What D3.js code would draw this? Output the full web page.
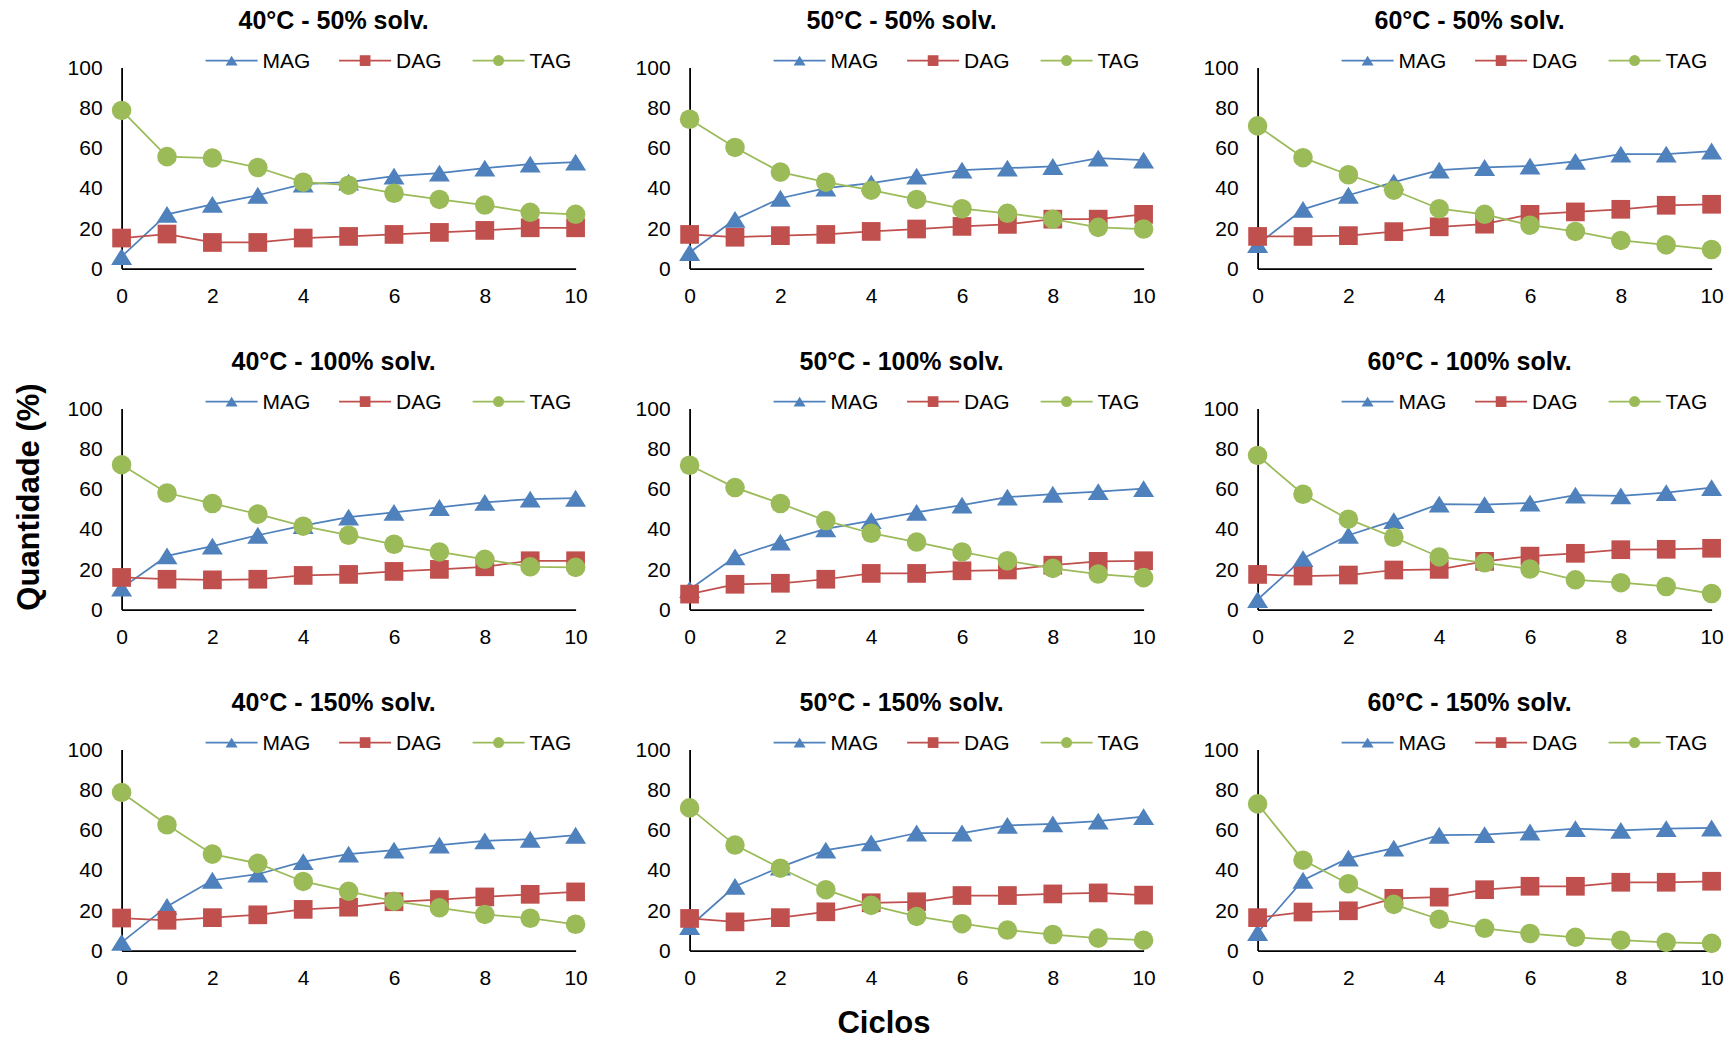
<!DOCTYPE html>
<html>
<head>
<meta charset="utf-8">
<script src="https://cdn.jsdelivr.net/npm/d3@7"></script>
<style>
    body { margin: 0; background: white; }
    svg { display: block; font-family: Arial, 'Liberation Sans', sans-serif; }
</style>
</head>
<body>
<div class="top-panel"></div>
<script>
// Panel titles, in reading order (rows = solvent %, columns = temperature).
var titles = [
    '40°C - 50% solv.', '50°C - 50% solv.', '60°C - 50% solv.',
    '40°C - 100% solv.', '50°C - 100% solv.', '60°C - 100% solv.',
    '40°C - 150% solv.', '50°C - 150% solv.', '60°C - 150% solv.'
];
var cycles = [0, 1, 2, 3, 4, 5, 6, 7, 8, 9, 10];
var xTicks = [0, 2, 4, 6, 8, 10];
var yTicks = [0, 20, 40, 60, 80, 100];
var seriesNames = ['MAG', 'DAG', 'TAG'];

// MAG values for each panel.
var magValues = [
    [6, 27, 32, 36.5, 42, 43, 46, 47.5, 50, 52, 53],
    [8, 24.5, 35, 40, 42.5, 46, 49, 50, 50.8, 55, 54],
    [12, 29.5, 36.5, 43, 49, 50.3, 51, 53.3, 57, 57, 58.5],
    [10.7, 26.7, 31.6, 37, 41.8, 46, 48.4, 50.8, 53.3, 55, 55.4],
    [10, 26.2, 33.6, 40.2, 44.3, 48.4, 52, 56, 57.4, 58.7, 60.2],
    [5, 25.4, 37, 44.3, 52.5, 52.2, 53, 57, 56.6, 58.2, 60.7],
    [4.1, 22, 35, 38, 44.3, 48, 50, 52.5, 54.6, 55.4, 57.4],
    [12, 32, 41.5, 50, 53.6, 58.5, 58.5, 62.3, 63, 64.4, 66.7],
    [9, 35, 46, 51, 57.4, 57.7, 59, 60.7, 59.8, 60.7, 61]
];
// DAG values for each panel.
var dagValues = [
    [15.2, 17.2, 13, 13, 15.2, 16, 17, 18, 19, 20.3, 20.3],
    [17, 15.6, 16.4, 17, 18.5, 19.7, 21, 22, 24.6, 24.6, 27],
    [16, 16, 16.4, 18.4, 20.8, 22.1, 27, 28.2, 29.5, 31.5, 32],
    [16, 15.1, 14.8, 15.1, 17, 17.5, 19, 20, 21.3, 24.3, 24.3],
    [7.7, 12.6, 13.1, 15.1, 18, 18, 19.3, 19.7, 22.1, 24, 24.3],
    [17.5, 16.7, 17.2, 19.7, 20, 24, 26.6, 28, 29.8, 30, 30.5],
    [16.2, 15.1, 16.4, 17.8, 20.5, 21.6, 24.3, 25.4, 26.7, 28, 29.2],
    [16, 14.3, 16.4, 19.3, 23.8, 24.3, 27.4, 27.4, 28.2, 28.7, 27.6],
    [16.4, 19.2, 19.8, 26, 26.6, 30.3, 32, 32, 34, 34, 34.5]
];
// TAG values for each panel.
var tagValues = [
    [78.7, 55.7, 55, 50.3, 43, 41.5, 37.5, 34.4, 31.6, 28, 27],
    [74.3, 60.3, 48, 43, 39, 34.4, 29.8, 27.5, 24.6, 20.5, 19.7],
    [71, 55.2, 46.7, 39, 29.8, 27, 21.6, 18.5, 14, 11.8, 9.5],
    [72.1, 58, 52.8, 47.5, 41.5, 37, 32.5, 28.7, 25, 21.3, 21],
    [71.8, 60.7, 52.8, 44.3, 38, 33.6, 28.7, 24.3, 20.5, 17.7, 15.9],
    [76.7, 57.4, 45, 36, 26.2, 23.3, 20.2, 14.8, 13.4, 11.5, 8],
    [78.7, 62.6, 48, 43.4, 34.4, 29.5, 24.6, 21.3, 18, 16.1, 13.1],
    [71, 52.5, 41, 30.3, 22.5, 17, 13.4, 10.2, 8, 6.2, 5.2],
    [73, 45, 33.3, 23, 15.6, 11.1, 8.5, 6.6, 5.2, 4.1, 3.6]
];

// Excel-style triangle: a bit flatter than d3's equilateral one, centred on its box.
// Here "size" is taken as the width of the triangle.
var flatTriangle = {
    draw: function(context, size) {
        var w = size / 2, h = size * 0.4;
        context.moveTo(0, -h);
        context.lineTo(w, h);
        context.lineTo(-w, h);
        context.closePath();
    }
};

// Excel 2007 default series colours and marker shapes.
var colors = { MAG: '#4F81BD', DAG: '#C0504D', TAG: '#9BBB59' };
var symbols = { MAG: flatTriangle, DAG: d3.symbolSquare, TAG: d3.symbolCircle };
var markerSize = { MAG: 21, DAG: 350, TAG: 300 };
var legendMarkerSize = { MAG: 12, DAG: 115, TAG: 95 };

// Grid geometry (axis origin of the top-left panel and spacing between panels).
var plotW = 454, plotH = 201;
var originX = 121.6, originBottom = 268.6;
var colStep = 568, rowStep = 341;

var svg = d3.select('.top-panel').append('svg')
    .attr('width', 1733).attr('height', 1043);

var x = d3.scaleLinear().domain([0, 10]).range([0, plotW]);
var y = d3.scaleLinear().domain([0, 100]).range([plotH, 0]);

/**
 * Draws one small multiple at panel index i.
 */
var drawPanel = function(i) {
    var col = i % 3, row = Math.floor(i / 3);
    var g = svg.append('g')
        .attr('transform', 'translate(' + (originX + col * colStep) + ',' + (originBottom + row * rowStep - plotH) + ')');

    // Panel title.
    g.append('text')
        .attr('x', 212).attr('y', -39)
        .style('text-anchor', 'middle')
        .style('font-weight', 'bold').style('font-size', '25px')
        .text(titles[i]);

    // Axes with no tick marks, just the labels and a black spine.
    var yAxis = g.append('g')
        .call(d3.axisLeft(y).tickValues(yTicks).tickSize(0).tickSizeOuter(0).tickPadding(19));
    var xAxis = g.append('g')
        .attr('transform', 'translate(0,' + plotH + ')')
        .call(d3.axisBottom(x).tickValues(xTicks).tickSize(0).tickSizeOuter(0).tickPadding(19));
    [xAxis, yAxis].forEach(function(a) {
        a.select('.domain').attr('stroke', 'black').attr('stroke-width', 1.8);
        a.selectAll('text').style('font-size', '21px').style('font-family', 'Arial, Liberation Sans, sans-serif').attr('fill', '#000');
    });

    var values = { MAG: magValues[i], DAG: dagValues[i], TAG: tagValues[i] };
    var line = d3.line()
        .x(function(d, j) { return x(cycles[j]); })
        .y(function(d) { return y(d); });

    // Series are drawn in order, so TAG sits on top.
    seriesNames.forEach(function(name) {
        g.append('path')
            .datum(values[name])
            .attr('fill', 'none')
            .attr('stroke', colors[name])
            .attr('stroke-width', 1.75)
            .attr('d', line);
        g.selectAll('.pt-' + name).data(values[name])
            .enter().append('path')
            .attr('class', 'pt-' + name)
            .attr('transform', function(d, j) { return 'translate(' + x(cycles[j]) + ',' + y(d) + ')'; })
            .attr('d', d3.symbol(symbols[name], markerSize[name]))
            .attr('fill', colors[name]);
    });

    // Legend above the plot area.
    var legend = g.append('g').attr('transform', 'translate(84,-7)');
    seriesNames.forEach(function(name, k) {
        var item = legend.append('g').attr('transform', 'translate(' + (k * 133.5) + ',0)');
        item.append('line')
            .attr('x1', 0).attr('x2', 52).attr('y1', 0).attr('y2', 0)
            .attr('stroke', colors[name]).attr('stroke-width', 1.75);
        item.append('path')
            .attr('transform', 'translate(26,0)')
            .attr('d', d3.symbol(symbols[name], legendMarkerSize[name]))
            .attr('fill', colors[name]);
        item.append('text')
            .attr('x', 57).attr('y', 0).attr('dy', '0.35em')
            .style('font-size', '21px')
            .text(name);
    });
};

for (var i = 0; i < titles.length; i++) {
    drawPanel(i);
}

// Shared axis titles.
svg.append('text')
    .attr('transform', 'translate(28,497) rotate(-90)')
    .attr('dy', '0.35em')
    .style('text-anchor', 'middle')
    .style('font-weight', 'bold').style('font-size', '31px')
    .text('Quantidade (%)');

svg.append('text')
    .attr('x', 884).attr('y', 1022).attr('dy', '0.35em')
    .style('text-anchor', 'middle')
    .style('font-weight', 'bold').style('font-size', '31px')
    .text('Ciclos');
</script>
</body>
</html>
